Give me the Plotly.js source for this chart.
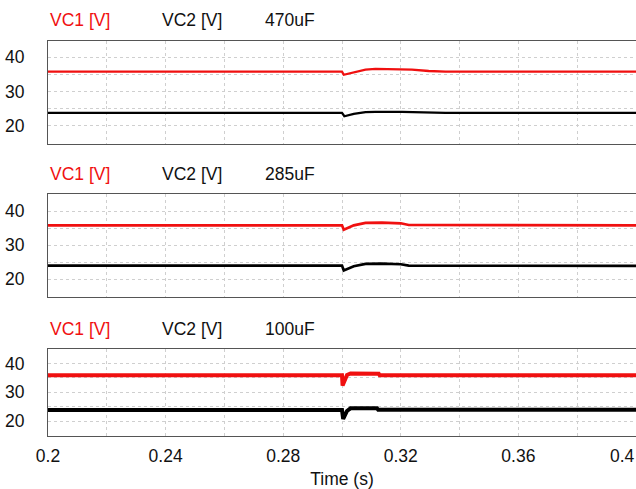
<!DOCTYPE html>
<html>
<head>
<meta charset="utf-8">
<script src="https://cdn.plot.ly/plotly-3.0.1.min.js"></script>
<style>
  html, body { margin: 0; padding: 0; background: #fff; }
  #chart { width: 636px; height: 489px; }
</style>
</head>
<body>
<div id="chart"></div>
<script>
// ---- Data ----
const panelLabels = ["470uF", "285uF", "100uF"];
const seriesNames = ["VC1 [V]", "VC2 [V]"];

// 470uF
const t470_vc1 = [0.2, 0.3, 0.3006, 0.304, 0.308, 0.3114, 0.3204, 0.3238, 0.3295, 0.3352, 0.4];
const vc1_470  = [35.8, 35.8, 34.9, 35.6, 36.4, 36.6, 36.6, 36.4, 36.0, 35.8, 35.8];
const t470_vc2 = [0.2, 0.3, 0.3008, 0.304, 0.308, 0.3114, 0.3204, 0.3238, 0.3295, 0.3352, 0.4];
const vc2_470  = [23.8, 23.8, 22.8, 23.5, 24.0, 24.1, 24.1, 24.0, 23.9, 23.8, 23.8];

// 285uF
const t285 = [0.2, 0.3, 0.3006, 0.304, 0.308, 0.3136, 0.32, 0.3227, 0.4];
const vc1_285 = [35.8, 35.8, 34.5, 35.8, 36.5, 36.6, 36.4, 35.9, 35.8];
const vc2_285 = [24.0, 24.0, 22.6, 23.8, 24.5, 24.6, 24.4, 24.0, 23.9];

// 100uF
const t100_vc1 = [0.2, 0.3, 0.3002, 0.3006, 0.3012, 0.3017, 0.3029, 0.3125, 0.3128, 0.4];
const vc1_100  = [35.9, 35.9, 32.3, 33.2, 34.9, 36.0, 36.5, 36.4, 35.9, 35.9];
const t100_vc2 = [0.2, 0.3, 0.3004, 0.3012, 0.3017, 0.3029, 0.3119, 0.3123, 0.4];
const vc2_100  = [23.85, 23.85, 20.7, 22.4, 23.5, 24.4, 24.4, 23.9, 23.9];

// Axis ticks (the last label, at the very edge, is drawn right-aligned so it stays visible)
const xTickVals = [0.2, 0.22, 0.24, 0.26, 0.28, 0.30, 0.32, 0.34, 0.36, 0.38, 0.4];
const xTickText = ["0.2", "", "0.24", "", "0.28", "", "0.32", "", "0.36", "", ""];
const xEdgeLabel = "0.4";
const yTickVals = [20, 25, 30, 35, 40];
const yTickText = ["20", "", "30", "", "40"];

// ---- Styling ----
const RED = "#f01010";
const BLACK = "#000000";
const FONT = "Liberation Sans, Arial, sans-serif";
const FS = 17.5;

const traces = [
  {x: t470_vc1, y: vc1_470, xaxis: "x", yaxis: "y", line: {color: RED, width: 2.3}},
  {x: t470_vc2, y: vc2_470, xaxis: "x", yaxis: "y", line: {color: BLACK, width: 2.3}},
  {x: t285, y: vc1_285, xaxis: "x2", yaxis: "y2", line: {color: RED, width: 2.7}},
  {x: t285, y: vc2_285, xaxis: "x2", yaxis: "y2", line: {color: BLACK, width: 2.7}},
  {x: t100_vc1, y: vc1_100, xaxis: "x3", yaxis: "y3", line: {color: RED, width: 4}},
  {x: t100_vc2, y: vc2_100, xaxis: "x3", yaxis: "y3", line: {color: BLACK, width: 4}}
].map(tr => Object.assign({type: "scatter", mode: "lines", showlegend: false, hoverinfo: "skip"}, tr));

const H = 489;
const domains = [
  [1 - 143.7 / H, 1 - 40.5 / H],
  [1 - 297 / H, 1 - 194.3 / H],
  [1 - 436 / H, 1 - 349.3 / H]
];

function xAxis(anchor, showLabels) {
  return {
    anchor: anchor,
    domain: [0, 1],
    range: [0.2, 0.4],
    tickmode: "array",
    tickvals: xTickVals,
    ticktext: showLabels ? xTickText : xTickVals.map(() => ""),
    showticklabels: showLabels,
    ticks: showLabels ? "outside" : "",
    ticklen: 4,
    tickcolor: "rgba(0,0,0,0)",
    showgrid: true,
    gridcolor: "#cfcfcf",
    griddash: "dot",
    gridwidth: 1,
    zeroline: false,
    showline: true,
    linecolor: "#555555",
    linewidth: 1,
    mirror: true,
    tickfont: {family: FONT, size: FS, color: "#111"},
    fixedrange: true
  };
}
function yAxis(anchor, dom) {
  return {
    anchor: anchor,
    domain: dom,
    range: [14.8, 44.9],
    tickmode: "array",
    tickvals: yTickVals,
    ticktext: yTickText,
    ticks: "outside",
    ticklen: 19,
    tickcolor: "rgba(0,0,0,0)",
    showgrid: true,
    gridcolor: "#cfcfcf",
    griddash: "dot",
    gridwidth: 1,
    zeroline: false,
    showline: true,
    linecolor: "#555555",
    linewidth: 1,
    mirror: true,
    tickfont: {family: FONT, size: FS, color: "#111"},
    fixedrange: true
  };
}

const layout = {
  width: 636,
  height: 489,
  margin: {l: 48, r: 0, t: 0, b: 0, autoexpand: false},
  paper_bgcolor: "#ffffff",
  plot_bgcolor: "#ffffff",
  font: {family: FONT, size: FS, color: "#111"},
  xaxis: xAxis("y", false),
  xaxis2: xAxis("y2", false),
  xaxis3: Object.assign(xAxis("y3", true), {
    title: {text: "Time (s)", font: {family: FONT, size: FS, color: "#111"}, standoff: 9}
  }),
  yaxis: yAxis("x", domains[0]),
  yaxis2: yAxis("x2", domains[1]),
  yaxis3: yAxis("x3", domains[2]),
  annotations: [{
    text: xEdgeLabel,
    xref: "paper", yref: "y3 domain",
    x: 1, y: 0,
    xanchor: "right", yanchor: "middle",
    xshift: 1, yshift: -20,
    showarrow: false,
    font: {family: FONT, size: FS, color: "#111"}
  }]
};

const yDomRefs = ["y domain", "y2 domain", "y3 domain"];
const titleX = [0, (160 - 48) / 588, (263 - 48) / 588];
for (let p = 0; p < 3; p++) {
  const texts = [seriesNames[0], seriesNames[1], panelLabels[p]];
  const colors = [RED, "#111", "#111"];
  for (let k = 0; k < 3; k++) {
    layout.annotations.push({
      text: texts[k],
      xref: "paper", yref: yDomRefs[p],
      x: titleX[k], y: 1,
      xanchor: "left", yanchor: "middle",
      yshift: 20,
      showarrow: false,
      font: {family: FONT, size: FS, color: colors[k]}
    });
  }
}

Plotly.newPlot("chart", traces, layout, {staticPlot: true, displayModeBar: false});
</script>
</body>
</html>
